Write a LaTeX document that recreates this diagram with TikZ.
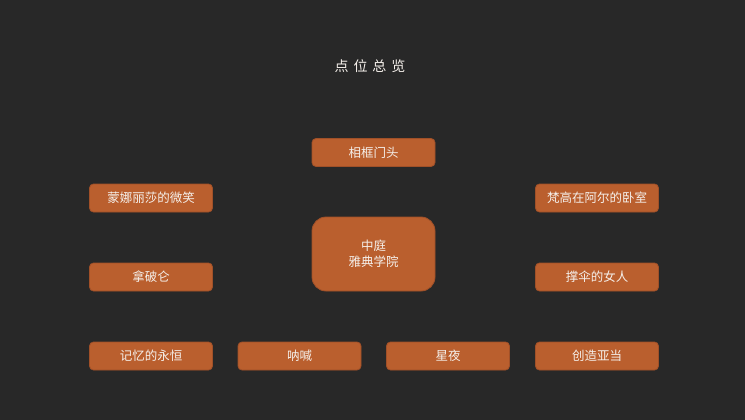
\documentclass[tikz,border=0pt]{standalone}
\usepackage{fontspec}
\setmainfont{Noto Sans CJK SC}
\newfontfamily\cjk{Noto Sans CJK SC}
\definecolor{bg}{RGB}{40,40,40}
\definecolor{boxfill}{RGB}{186,95,46}
\definecolor{boxline}{RGB}{160,80,40}
\definecolor{txt}{RGB}{245,240,235}
\begin{document}
\begin{tikzpicture}[x=1pt,y=-1pt,
  pbox/.style={draw=boxline,line width=0.8pt,fill=boxfill,rounded corners=4pt,
    minimum width=123pt,minimum height=28pt,inner sep=0pt,
    text=txt,font=\cjk\fontsize{12.5pt}{15pt}\selectfont,align=center},
  bigbox/.style={pbox,minimum height=74pt,rounded corners=14pt}]
\fill[bg] (0,0) rectangle (745,420);
\useasboundingbox (0,0) rectangle (745,420);
\node[text=txt,font=\cjk\fontsize{14pt}{16pt}\selectfont] (title) at (370,66) {点\hspace{5pt}位\hspace{5pt}总\hspace{5pt}览};
\node[pbox] (xk) at (373.5,152.5) {相框门头};
\node[pbox] (mn) at (151,198) {蒙娜丽莎的微笑};
\node[pbox] (fg) at (597,198) {梵高在阿尔的卧室};
\node[bigbox] (zt) at (373.5,254) {中庭\\[1pt]雅典学院};
\node[pbox] (np) at (151,277) {拿破仑};
\node[pbox] (cs) at (597,277) {撑伞的女人};
\node[pbox] (jy) at (151,356) {记忆的永恒};
\node[pbox] (nh) at (299.5,356) {呐喊};
\node[pbox] (xy) at (448,356) {星夜};
\node[pbox] (cz) at (597,356) {创造亚当};
\end{tikzpicture}
\end{document}
